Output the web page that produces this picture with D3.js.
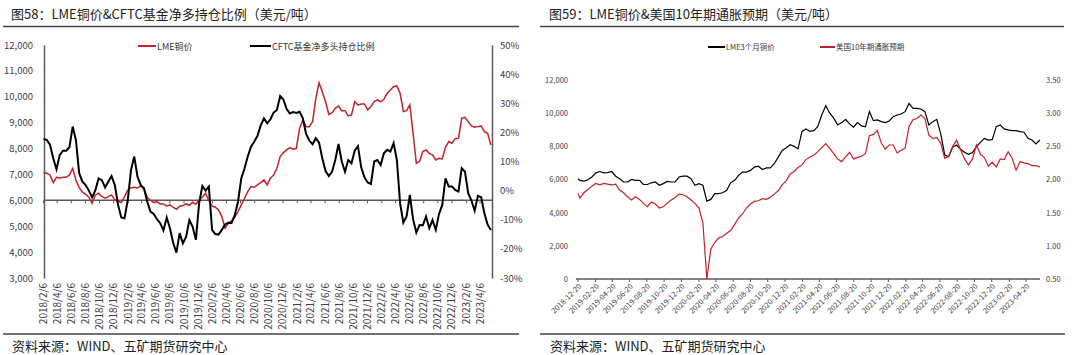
<!DOCTYPE html>
<html><head><meta charset="utf-8">
<script src="https://cdn.jsdelivr.net/npm/d3@7"></script>
<style>
body{margin:0;background:#fff}
svg{display:block}
text{font-family:"Noto Sans CJK SC","Noto Sans",sans-serif}
</style>
</head><body>
<svg id="c" width="1080" height="355"></svg>
<script>
// ---------- Figure 58 data (bi-weekly, from 2018-02-06) ----------
const start58 = "2018-02-06";
const step58 = 14;
const copper58 = [7071,7045,6981,6685,6891,6865,6891,6891,6981,7225,
6788,6492,6325,6234,6119,5887,6209,6273,6144,6080,
6144,6209,6016,5964,5913,6144,6402,6479,6505,6479,
6556,6427,6119,6003,5913,5951,5861,5861,5784,5823,
5733,5655,5771,5797,5861,5810,5926,5848,6016,6119,
6273,5990,5784,5733,5630,5372,4922,5115,5205,5346,
5565,5823,6080,6337,6530,6505,6595,6685,6788,6595,
6852,6981,7238,7689,7843,7946,8036,7972,8010,8783,
9104,8847,8847,9040,9941,10546,10198,9812,9323,9388,
9555,9645,9465,9465,9259,9297,9812,9684,9722,9722,
9491,9619,9812,9877,9812,9902,10134,10263,10391,10417,
10134,9426,9465,9684,8590,7431,7500,7882,7946,7817,
7753,7560,7624,7599,8049,8268,8204,8384,8397,9169,
9207,9040,8873,8821,8847,8873,8654,8590,8139];
const cftc58 = [17.7,17.4,15.8,11.1,7.3,12.2,13.7,13.7,14.9,22.0,
17.4,6.0,3.1,1.9,0.0,-2.3,0.2,4.2,3.6,1.1,
3.1,5.0,1.9,-4.9,-9.2,-9.5,-3.2,7.1,11.7,4.8,
1.9,0.8,-3.8,-7.2,-8.0,-9.8,-11.2,-13.7,-9.2,-12.9,
-17.9,-21.3,-14.6,-18.1,-15.8,-10.1,-12.4,-16.9,-4.3,1.6,
0.0,1.4,-13.5,-14.9,-15.1,-13.5,-11.6,-11.0,-11.1,-8.4,
-3.8,4.2,7.6,11.7,15.1,16.8,18.8,22.4,24.8,23.1,
24.5,26.8,27.7,32.5,31.3,28.0,26.5,27.0,26.7,27.1,
24.8,19.5,17.2,15.9,18.0,16.5,11.1,6.7,5.0,6.5,
10.5,16.0,10.0,6.5,10.5,9.4,13.7,15.3,8.0,4.6,
2.8,2.3,10.0,10.5,8.8,12.8,14.0,13.4,16.3,10.5,
-4.4,-11.0,-8.9,-1.5,-9.8,-14.4,-11.8,-11.9,-8.9,-12.9,
-10.1,-13.5,-8.0,-4.9,4.2,1.4,1.4,0.2,-0.3,7.7,
6.5,-0.9,-3.4,-6.9,-1.8,-2.3,-7.8,-11.7,-13.5];
const xTicks58 = ["2018-02-06","2018-04-06","2018-06-06","2018-08-06","2018-10-06","2018-12-06",
"2019-02-06","2019-04-06","2019-06-06","2019-08-06","2019-10-06","2019-12-06",
"2020-02-06","2020-04-06","2020-06-06","2020-08-06","2020-10-06","2020-12-06",
"2021-02-06","2021-04-06","2021-06-06","2021-08-06","2021-10-06","2021-12-06",
"2022-02-06","2022-04-06","2022-06-06","2022-08-06","2022-10-06","2022-12-06",
"2023-02-06","2023-04-06"];
const yTicksL58 = [3000,4000,5000,6000,7000,8000,9000,10000,11000,12000];
const yTicksR58 = [-30,-20,-10,0,10,20,30,40,50];

// ---------- Figure 59 data (first point 2018-12-20, then bi-weekly from 2018-12-27) ----------
const first59 = "2018-12-20";
const start59 = "2018-12-27";
const step59 = 14;
const lme59 = [6050,5950,5900,5980,6150,6400,6480,6400,6420,6480,
6200,6050,5850,5850,6000,5950,5950,5700,5700,5800,
5850,5650,5750,5880,5850,5850,6150,6200,6200,6050,
5650,5750,5650,4700,4800,5150,5150,5200,5350,5800,
5950,6250,6450,6450,6550,6750,6800,6600,6700,6700,
6950,7350,7750,7900,8100,8000,7850,8900,9050,8900,
8950,9200,9900,10450,10000,9700,9290,9430,9630,9350,
9150,9430,9230,9180,10090,9550,9590,9490,9430,9530,
9790,9890,9950,10090,10590,10290,10290,10250,10090,9290,
9490,9630,8740,7480,7380,7940,8080,7820,7640,7520,
7620,7980,8240,8480,8380,8420,9190,9290,9050,8990,
8950,8950,8890,8850,8480,8380,8140,8380];
const infl59 = [1.79,1.72,1.80,1.85,1.90,1.94,1.92,1.94,1.93,1.92,
1.93,1.84,1.80,1.74,1.69,1.74,1.70,1.64,1.59,1.66,
1.63,1.57,1.59,1.64,1.69,1.73,1.78,1.77,1.74,1.69,
1.64,1.57,1.35,0.50,0.95,1.05,1.12,1.14,1.19,1.23,
1.32,1.42,1.48,1.57,1.63,1.67,1.68,1.71,1.70,1.73,
1.78,1.83,1.92,1.98,2.08,2.12,2.18,2.22,2.30,2.34,
2.37,2.42,2.48,2.54,2.47,2.39,2.31,2.27,2.34,2.41,
2.31,2.33,2.35,2.39,2.66,2.68,2.74,2.55,2.46,2.52,
2.52,2.40,2.44,2.47,2.80,2.90,2.92,2.97,2.92,2.67,
2.62,2.63,2.55,2.32,2.35,2.50,2.59,2.45,2.31,2.22,
2.31,2.52,2.38,2.33,2.20,2.26,2.19,2.31,2.30,2.42,
2.32,2.14,2.27,2.25,2.24,2.21,2.21,2.19];
const xTicks59 = ["2018-12-20","2019-02-20","2019-04-20","2019-06-20","2019-08-20","2019-10-20","2019-12-20",
"2020-02-20","2020-04-20","2020-06-20","2020-08-20","2020-10-20","2020-12-20",
"2021-02-20","2021-04-20","2021-06-20","2021-08-20","2021-10-20","2021-12-20",
"2022-02-20","2022-04-20","2022-06-20","2022-08-20","2022-10-20","2022-12-20",
"2023-02-20","2023-04-20"];
const yTicksL59 = [0,2000,4000,6000,8000,10000,12000];
const yTicksR59 = [0.5,1.0,1.5,2.0,2.5,3.0,3.5];

// ---------- helpers ----------
const parse = d3.timeParse("%Y-%m-%d");
const svg = d3.select("#c");
const RED = "#C0232C";
const AX = "#595959";
const LBL = "#404040";

// ================= Figure 58 =================
const dates58 = copper58.map((_, i) => d3.timeDay.offset(parse(start58), step58 * i));
const x58 = d3.scaleTime().domain([parse(xTicks58[0]), parse(xTicks58[xTicks58.length - 1])]).range([43.5, 480]);
const yL58 = d3.scaleLinear().domain([3000, 12000]).range([278, 45]);
const yR58 = d3.scaleLinear().domain([-30, 50]).range([278, 45]);
const g58 = svg.append("g");

g58.append("text").attr("x", 11).attr("y", 19).attr("font-size", 13).attr("fill", "#222")
  .text("图58：LME铜价&CFTC基金净多持仓比例（美元/吨）");
g58.append("line").attr("x1", 3).attr("x2", 519).attr("y1", 26.5).attr("y2", 26.5).attr("stroke", "#444").attr("stroke-width", 1.3);

const axL58 = g58.append("g").attr("transform", "translate(44,0)")
  .call(d3.axisLeft(yL58).tickValues(yTicksL58).tickFormat(d3.format(",")).tickSize(0).tickPadding(11));
const axR58 = g58.append("g").attr("transform", "translate(492,0)")
  .call(d3.axisRight(yR58).tickValues(yTicksR58).tickFormat(d => d + "%").tickSize(0).tickPadding(8));
[axL58, axR58].forEach(a => {
  a.select(".domain").attr("stroke", AX).attr("stroke-width", 1.5);
  a.selectAll("text").attr("font-size", 9.5).attr("fill", LBL);
});

// category axis crossing at 6,000
const y6000 = yL58(6000);
g58.append("line").attr("x1", 44).attr("x2", 492).attr("y1", y6000).attr("y2", y6000)
  .attr("stroke", AX).attr("stroke-width", 1.5);
g58.selectAll(".tk58").data(xTicks58).join("line")
  .attr("x1", d => x58(parse(d))).attr("x2", d => x58(parse(d)))
  .attr("y1", y6000).attr("y2", y6000 + 3).attr("stroke", AX).attr("stroke-width", 1);
const fmt58 = d => { const t = parse(d); return `${t.getFullYear()}/${t.getMonth() + 1}/${t.getDate()}`; };
g58.selectAll(".xl58").data(xTicks58).join("text")
  .attr("transform", d => `translate(${x58(parse(d))},283) rotate(-90)`)
  .attr("text-anchor", "end").attr("dy", "0.35em").attr("font-size", 10).attr("fill", LBL)
  .text(fmt58);

const lineCu = d3.line().x((d, i) => x58(dates58[i])).y(d => yL58(d));
const lineCf = d3.line().x((d, i) => x58(dates58[i])).y(d => yR58(d));
g58.append("path").datum(copper58).attr("d", lineCu).attr("fill", "none").attr("stroke", RED).attr("stroke-width", 1.5);
g58.append("path").datum(cftc58).attr("d", lineCf).attr("fill", "none").attr("stroke", "#000").attr("stroke-width", 2);

// legend 58
g58.append("line").attr("x1", 138).attr("x2", 156).attr("y1", 46).attr("y2", 46).attr("stroke", RED).attr("stroke-width", 2);
g58.append("text").attr("x", 157).attr("y", 49.5).attr("font-size", 9).attr("fill", "#333").text("LME铜价");
g58.append("line").attr("x1", 250).attr("x2", 271).attr("y1", 46).attr("y2", 46).attr("stroke", "#000").attr("stroke-width", 2);
g58.append("text").attr("x", 272).attr("y", 49.5).attr("font-size", 9).attr("fill", "#333").text("CFTC基金净多头持仓比例");

g58.append("line").attr("x1", 3).attr("x2", 519).attr("y1", 334).attr("y2", 334).attr("stroke", "#444").attr("stroke-width", 1.3);
g58.append("text").attr("x", 12).attr("y", 351).attr("font-size", 13).attr("fill", "#222").text("资料来源：WIND、五矿期货研究中心");

// ================= Figure 59 =================
const dates59 = lme59.map((_, i) => i === 0 ? parse(first59) : d3.timeDay.offset(parse(start59), step59 * (i - 1)));
const x59 = d3.scaleTime().domain([parse(xTicks59[0]), parse(xTicks59[xTicks59.length - 1])]).range([578, 1026]);
const yL59 = d3.scaleLinear().domain([0, 12000]).range([279, 80]);
const yR59 = d3.scaleLinear().domain([0.5, 3.5]).range([279, 80]);
const g59 = svg.append("g");

g59.append("text").attr("x", 549).attr("y", 19).attr("font-size", 13).attr("fill", "#222")
  .text("图59：LME铜价&美国10年期通胀预期（美元/吨）");
g59.append("line").attr("x1", 540).attr("x2", 1064).attr("y1", 26.5).attr("y2", 26.5).attr("stroke", "#444").attr("stroke-width", 1.3);

const axL59 = g59.append("g").attr("transform", "translate(576,0)")
  .call(d3.axisLeft(yL59).tickValues(yTicksL59).tickFormat(d3.format(",")).tickSize(0).tickPadding(8));
const axR59 = g59.append("g").attr("transform", "translate(1040,0)")
  .call(d3.axisRight(yR59).tickValues(yTicksR59).tickFormat(d3.format(".2f")).tickSize(0).tickPadding(6));
[axL59, axR59].forEach(a => {
  a.select(".domain").remove();
  a.selectAll("text").attr("font-size", 7.5).attr("fill", LBL);
});

g59.append("line").attr("x1", 576).attr("x2", 1040).attr("y1", 279).attr("y2", 279).attr("stroke", AX).attr("stroke-width", 1.3);
g59.selectAll(".tk59").data(xTicks59).join("line")
  .attr("x1", d => x59(parse(d))).attr("x2", d => x59(parse(d)))
  .attr("y1", 279).attr("y2", 282).attr("stroke", AX).attr("stroke-width", 1);
g59.selectAll(".xl59").data(xTicks59).join("text")
  .attr("transform", d => `translate(${x59(parse(d)) + 2},285) rotate(-45)`)
  .attr("text-anchor", "end").attr("dy", "0.35em").attr("font-size", 7.5).attr("fill", LBL)
  .text(d => d);

const lineLme = d3.line().x((d, i) => x59(dates59[i])).y(d => yL59(d));
const lineInf = d3.line().x((d, i) => x59(dates59[i])).y(d => yR59(d));
g59.append("path").datum(lme59).attr("d", lineLme).attr("fill", "none").attr("stroke", "#000").attr("stroke-width", 1.2);
g59.append("path").datum(infl59).attr("d", lineInf).attr("fill", "none").attr("stroke", RED).attr("stroke-width", 1.2);

// legend 59
g59.append("line").attr("x1", 708).attr("x2", 725).attr("y1", 47).attr("y2", 47).attr("stroke", "#000").attr("stroke-width", 2);
g59.append("text").attr("x", 726).attr("y", 49.5).attr("font-size", 7.5).attr("fill", "#333").text("LME3个月铜价");
g59.append("line").attr("x1", 820).attr("x2", 835).attr("y1", 47).attr("y2", 47).attr("stroke", RED).attr("stroke-width", 2);
g59.append("text").attr("x", 836).attr("y", 49.5).attr("font-size", 7.5).attr("fill", "#333").text("美国10年期通胀预期");

g59.append("line").attr("x1", 540).attr("x2", 1065).attr("y1", 334).attr("y2", 334).attr("stroke", "#444").attr("stroke-width", 1.3);
g59.append("text").attr("x", 550).attr("y", 351).attr("font-size", 13).attr("fill", "#222").text("资料来源：WIND、五矿期货研究中心");
</script>
</body></html>
